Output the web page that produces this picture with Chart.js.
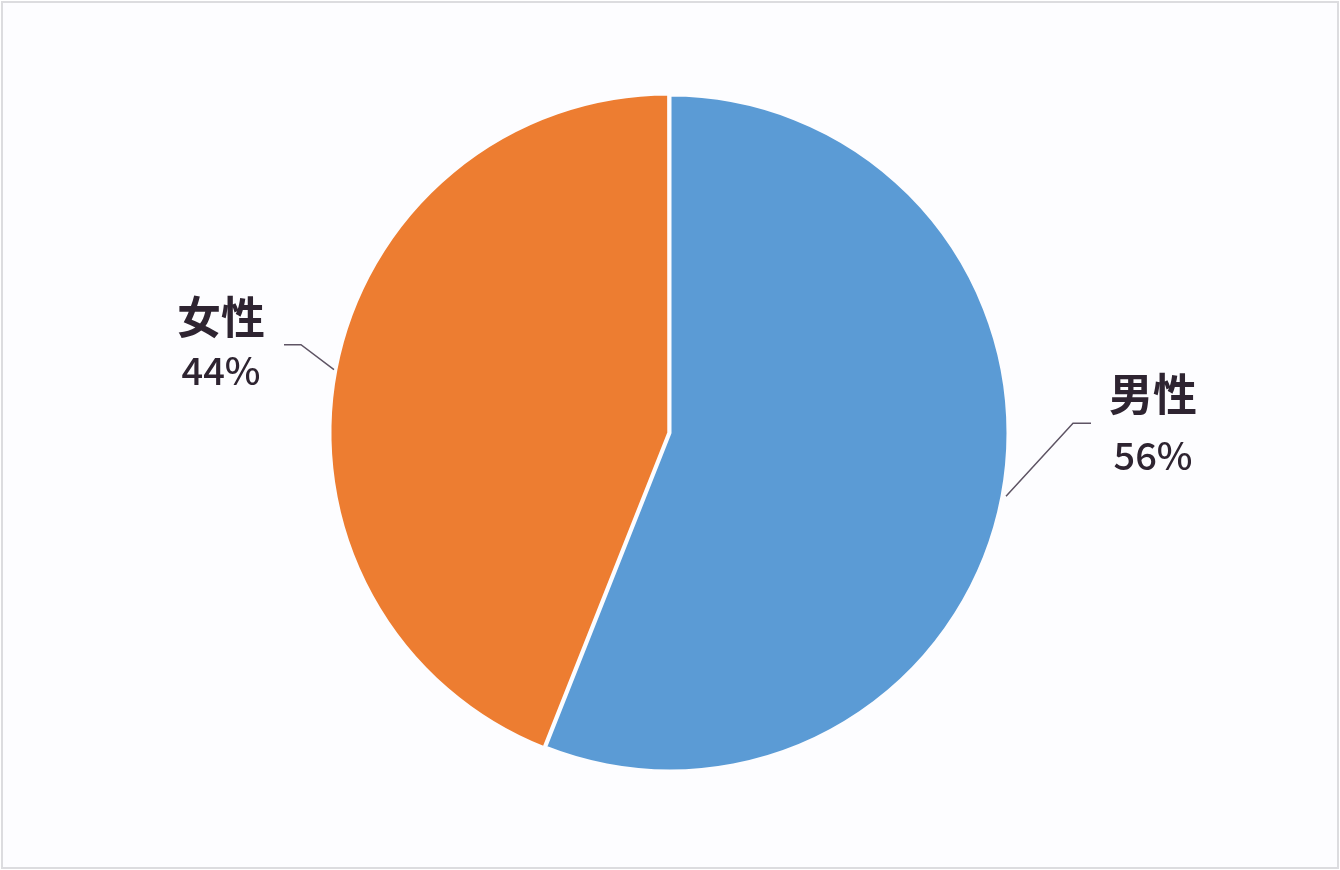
<!DOCTYPE html>
<html>
<head>
<meta charset="utf-8">
<script src="https://cdn.jsdelivr.net/npm/chart.js@4/dist/chart.umd.min.js"></script>
<style>
  html, body { margin: 0; padding: 0; background: #ffffff; }
  #frame {
    position: absolute; left: 1px; top: 1px; width: 1334px; height: 864px;
    border: 2px solid #dcdcdf; background: #fdfdff;
  }
  #wrap { position: absolute; left: -3px; top: -3px; width: 1340px; height: 870px; }
</style>
</head>
<body>
<div id="frame"><div id="wrap"><canvas id="chart"></canvas></div></div>
<script>
const labels = ['男性', '女性'];
const values = [56, 44];
const colors = ['#5B9BD5', '#ED7D31'];

// leader line / label layout per slice, relative to the slice mid-point on the rim
const labelLayout = [
    { start: 4, elbow: [67, -73], tail: 18, text: [62, -29, 32] },
    { start: -4, elbow: [-33, -25], tail: -17, text: [-63, -27, 26] }
];

const leaderLabels = {
    id: 'leaderLabels',
    afterDatasetsDraw(chart) {
        const ctx = chart.ctx;
        const meta = chart.getDatasetMeta(0);
        const total = values.reduce((a, b) => a + b, 0);
        meta.data.forEach((arc, i) => {
            const lay = labelLayout[i];
            const mid = (arc.startAngle + arc.endAngle) / 2;
            const x0 = arc.x + Math.cos(mid) * arc.outerRadius + lay.start;
            const y0 = arc.y + Math.sin(mid) * arc.outerRadius;
            const x1 = x0 + lay.elbow[0], y1 = y0 + lay.elbow[1];
            const x2 = x1 + lay.tail;
            ctx.save();
            ctx.strokeStyle = '#5e5464';
            ctx.lineWidth = 1.5;
            ctx.beginPath();
            ctx.moveTo(x0, y0);
            ctx.lineTo(x1, y1);
            ctx.lineTo(x2, y1);
            ctx.stroke();

            const tx = x2 + lay.text[0];
            ctx.fillStyle = '#2e2431';
            ctx.textAlign = 'center';
            ctx.textBaseline = 'middle';
            ctx.font = 'bold 44px "Noto Sans CJK SC"';
            ctx.fillText(labels[i], tx, y1 + lay.text[1]);
            ctx.font = '500 38px "Noto Sans CJK SC", "Noto Sans", sans-serif';
            ctx.fillText(Math.round(values[i] / total * 100) + '%', tx, y1 + lay.text[2]);
            ctx.restore();
        });
    }
};

new Chart(document.getElementById('chart'), {
    type: 'pie',
    data: {
        labels: labels,
        datasets: [{
            data: values,
            backgroundColor: colors,
            borderColor: '#fdfdff',
            borderWidth: 3,
            offset: [0, 5]
        }]
    },
    options: {
        responsive: true,
        maintainAspectRatio: false,
        animation: false,
        radius: 338,
        layout: { padding: { bottom: 4 } },
        plugins: {
            legend: { display: false },
            tooltip: { enabled: false }
        }
    },
    plugins: [leaderLabels]
});
</script>
</body>
</html>
